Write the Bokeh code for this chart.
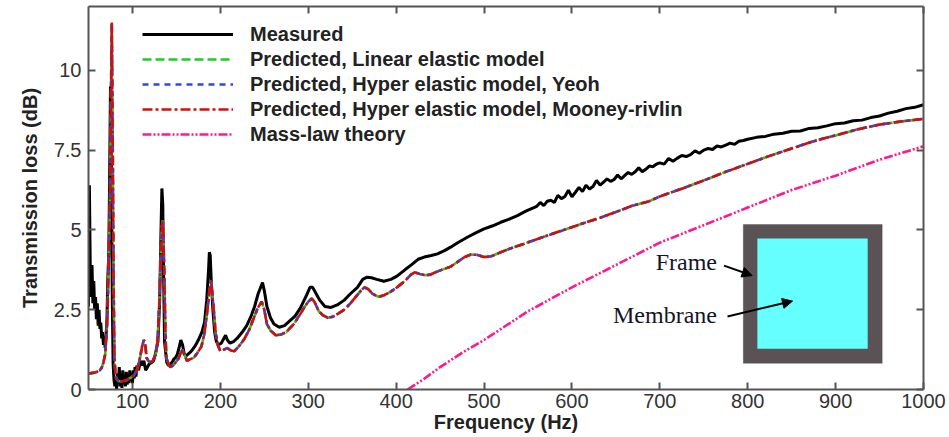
from bokeh.plotting import figure
from bokeh.models import (Range1d, FixedTicker, LinearAxis, Legend, LegendItem,
                          BoxAnnotation, Label, Arrow, NormalHead, CustomJSTickFormatter)
from bokeh.embed import file_html
from bokeh.resources import INLINE

# ---------------- data ----------------
meas_f = [
    50, 51, 52, 53, 54, 55, 56, 57, 58, 59,
    60, 61, 62, 63, 64, 65, 66, 67, 68, 69,
    70, 71, 72, 73, 74, 75, 76, 77, 78, 79,
    80, 81, 82, 83, 84, 85, 86, 87, 88, 89,
    90, 91, 92, 93, 94, 95, 96, 97, 98, 99,
    100, 101, 102, 103, 104, 105, 107, 109, 111, 113,
    115, 117, 119, 122, 124, 126, 129, 131, 132.5, 133.5,
    134.5, 135.5, 136.5, 139, 141, 143, 145, 147, 149, 151,
    153, 155, 157, 159, 161, 163, 165, 167, 171, 175,
    179, 182, 184.5, 186.5, 187.5, 188.5, 189.5, 191.5, 193.5, 195.5,
    198, 201, 204, 206, 208, 211, 215, 219, 225, 230,
    235, 239, 243, 248, 250, 253, 257, 261, 267, 273,
    279, 285, 291, 298, 302, 305, 309, 313, 319, 326,
    333, 341, 348, 356, 362, 367, 372, 378, 386, 394,
    401, 410, 418, 425, 432, 440, 447, 455, 462, 470,
    481, 490, 500, 510, 519, 528, 538, 547, 556, 560,
    564, 568, 572, 576, 580, 584, 588, 592, 596, 600,
    604, 608, 612, 616, 620, 624, 628, 632, 636, 640,
    644, 648, 652, 656, 660, 664, 668, 672, 676, 680,
    684, 688, 692, 696, 700, 705, 710, 715, 720, 725,
    730, 735, 740, 745, 750, 755, 760, 765, 770, 775,
    780, 785, 790, 795, 800, 810, 820, 830, 840, 850,
    860, 870, 880, 890, 900, 910, 920, 930, 940, 950,
    960, 970, 980, 990, 1000]
meas_tl = [
    2.6, 6.4, 3.8, 2.9, 3.9, 2.7, 3.4, 2.5, 2.9, 2.2,
    2.7, 2.0, 2.5, 1.9, 2.1, 1.6, 1.8, 1.4, 1.6, 1.3,
    1.7, 2.2, 3.5, 4.2, 6.5, 9.5, 7.0, 3.0, 0.8, 0.3,
    0.1, 0.4, 0.0, 0.5, 0.2, 0.7, 0.1, 0.5, 0.05, 0.6,
    0.2, 0.4, 0.1, 0.55, 0.15, 0.45, 0.2, 0.6, 0.3, 0.5,
    0.2, 0.6, 0.35, 0.7, 0.4, 0.75, 0.6, 0.9, 0.75, 0.9,
    0.6, 0.7, 0.8, 0.85, 0.9, 1.1, 1.5, 2.8, 5.0, 6.3,
    5.8, 3.5, 1.5, 0.85, 0.75, 0.8, 0.85, 0.95, 1.0, 1.1,
    1.3, 1.55, 1.4, 1.1, 1.05, 1.1, 1.15, 1.2, 1.35, 1.55,
    1.8, 2.1, 2.8, 3.7, 4.3, 4.2, 3.5, 2.5, 1.8, 1.5,
    1.4, 1.45, 1.6, 1.7, 1.55, 1.45, 1.5, 1.6, 1.8, 2.0,
    2.3, 2.6, 3.0, 3.35, 3.1, 2.6, 2.25, 2.05, 1.95, 2.0,
    2.15, 2.3, 2.55, 2.95, 3.2, 3.2, 3.0, 2.8, 2.6, 2.57,
    2.65, 2.8, 3.0, 3.2, 3.45, 3.52, 3.5, 3.45, 3.39, 3.45,
    3.55, 3.75, 3.92, 4.08, 4.15, 4.2, 4.25, 4.35, 4.46, 4.6,
    4.77, 4.9, 5.03, 5.13, 5.24, 5.33, 5.45, 5.58, 5.69, 5.74,
    5.86, 5.76, 5.9, 5.93, 5.86, 6.08, 5.98, 6.05, 6.24, 6.04,
    6.18, 6.33, 6.2, 6.4, 6.28, 6.36, 6.55, 6.4, 6.5, 6.6,
    6.52, 6.58, 6.72, 6.6, 6.7, 6.8, 6.74, 6.82, 6.95, 6.82,
    6.9, 7.0, 6.98, 7.06, 7.1, 7.06, 7.24, 7.15, 7.25, 7.33,
    7.3, 7.36, 7.48, 7.4, 7.5, 7.55, 7.52, 7.63, 7.6, 7.66,
    7.72, 7.68, 7.78, 7.8, 7.84, 7.9, 7.93, 8.0, 8.03, 8.09,
    8.1, 8.18, 8.2, 8.26, 8.33, 8.35, 8.42, 8.44, 8.52, 8.57,
    8.66, 8.72, 8.8, 8.84, 8.92]

pred_f = [
    50, 55, 60, 63, 65, 67, 69, 71, 72, 73,
    74.5, 75.5, 76.5, 77.5, 78.5, 79.5, 80.5, 81.5, 83.5, 86.5,
    91, 94, 98, 102, 105, 107, 109, 111, 113, 114.5,
    116, 118, 120, 123, 126.5, 128.5, 130.5, 132.5, 133.5, 134.5,
    135.5, 136.5, 137.5, 138.5, 141, 143, 146, 149, 152, 155,
    157, 159, 162, 166, 170, 174, 178.5, 181.5, 184.5, 186.5,
    188.5, 189.5, 190.5, 192.5, 194.5, 197, 200, 204, 208, 212,
    216, 221, 226.5, 232.5, 237.5, 242.5, 247, 250, 253, 257,
    263, 269, 275, 283.5, 289.5, 295, 300, 304, 307, 312,
    317, 322, 328, 334, 341, 348, 354, 360, 364, 368,
    373, 380, 386, 393, 401, 410, 417, 421, 427, 433,
    439, 447, 455, 462, 470, 478, 485, 492, 500, 508,
    519, 530, 545, 556, 575, 594, 612, 632, 650, 669,
    688, 700, 726, 750, 775, 800, 825, 850, 875, 900,
    925, 950, 975, 1000]
pred_linear_tl = [
    0.5, 0.52, 0.56, 0.6, 0.68, 0.85, 1.1, 2.0, 2.8, 4.0,
    6.0, 9.0, 11.5, 8.0, 3.5, 1.0, 0.55, 0.35, 0.27, 0.25,
    0.27, 0.3, 0.37, 0.45, 0.6, 0.8, 1.05, 1.35, 1.55, 1.45,
    1.0, 0.9, 0.85, 0.9, 1.1, 1.5, 2.6, 4.45, 5.1, 5.3,
    4.5, 3.3, 1.8, 1.0, 0.8, 0.7, 0.75, 0.85, 0.95, 1.15,
    1.25, 1.1, 0.9, 0.95, 1.0, 1.15, 1.35, 1.7, 2.3, 2.8,
    3.35, 3.4, 3.1, 2.5, 1.8, 1.4, 1.2, 1.25, 1.3, 1.22,
    1.2, 1.35, 1.55, 1.85, 2.2, 2.55, 2.75, 2.5, 2.05, 1.85,
    1.7, 1.72, 1.8, 2.05, 2.3, 2.55, 2.75, 2.85, 2.75, 2.45,
    2.32, 2.25, 2.28, 2.38, 2.5, 2.7, 2.9, 3.1, 3.2, 3.15,
    3.0, 2.9, 2.95, 3.05, 3.2, 3.4, 3.6, 3.67, 3.62, 3.58,
    3.6, 3.7, 3.78, 3.85, 4.0, 4.15, 4.23, 4.22, 4.15, 4.17,
    4.3, 4.42, 4.56, 4.67, 4.85, 5.03, 5.2, 5.38, 5.56, 5.76,
    5.9, 6.05, 6.3, 6.55, 6.82, 7.07, 7.32, 7.55, 7.78, 7.96,
    8.15, 8.3, 8.4, 8.48]
# the two hyper-elastic predictions coincide with the linear one in the picture
pred_yeoh_tl = list(pred_linear_tl)
pred_mooney_tl = list(pred_linear_tl)

mass_f = [413, 430, 450, 475, 500, 550, 600, 650, 700, 750, 800, 850, 900, 950, 1000]
mass_tl = [0.0, 0.3, 0.7, 1.15, 1.55, 2.45, 3.2, 3.9, 4.6, 5.15, 5.7, 6.25, 6.7, 7.2, 7.62]

x_ticks = [100, 200, 300, 400, 500, 600, 700, 800, 900, 1000]
y_ticks = [0, 2.5, 5, 7.5, 10]

series_labels = ["Measured",
                 "Predicted, Linear elastic model",
                 "Predicted, Hyper elastic model, Yeoh",
                 "Predicted, Hyper elastic model, Mooney-rivlin",
                 "Mass-law theory"]

# ---------------- figure ----------------
AX = "#555555"
FONT = "Liberation Sans"

p = figure(width=949, height=437, output_backend="svg", toolbar_location=None,
           x_range=Range1d(50, 1000), y_range=Range1d(0, 12),
           min_border_left=88, min_border_right=26, min_border_top=6, min_border_bottom=48,
           background_fill_color="white", border_fill_color="white")
p.grid.visible = False
p.outline_line_color = None

fmt = CustomJSTickFormatter(code="return String(tick);")
for ax, ticks in ((p.xaxis[0], x_ticks), (p.yaxis[0], y_ticks)):
    ax.ticker = FixedTicker(ticks=ticks)
    ax.formatter = fmt
    ax.axis_line_color = AX
    ax.axis_line_width = 2
    ax.major_tick_line_color = AX
    ax.major_tick_line_width = 2
    ax.major_tick_in = 7
    ax.major_tick_out = 0
    ax.minor_tick_line_color = None
    ax.major_label_text_font = FONT
    ax.major_label_text_font_size = "20px"
    ax.major_label_text_color = "#333333"
    ax.axis_label_text_font = FONT
    ax.axis_label_text_font_size = "20px"
    ax.axis_label_text_font_style = "bold"
    ax.axis_label_text_color = "#222222"

p.xaxis.axis_label = "Frequency (Hz)"
p.yaxis.axis_label = "Transmission loss (dB)"
p.xaxis.major_label_standoff = 4
p.xaxis.axis_label_standoff = 0
p.yaxis.major_label_standoff = 7
p.yaxis.axis_label_standoff = 10

empty = CustomJSTickFormatter(code="return '';")
for loc, ticks in (("right", y_ticks), ("above", x_ticks)):
    a = LinearAxis(ticker=FixedTicker(ticks=ticks), formatter=empty,
                   axis_line_color=AX, axis_line_width=2,
                   major_tick_line_color=AX, major_tick_line_width=2,
                   major_tick_in=7, major_tick_out=0, minor_tick_line_color=None,
                   major_label_text_font_size="0px", major_label_standoff=0)
    p.add_layout(a, loc)

# ---------------- curves ----------------
r_meas = p.line(meas_f, meas_tl, line_color="black", line_width=3)
r_lin = p.line(pred_f, pred_linear_tl, line_color="#1fcc1f", line_width=2.6, line_dash="9 4")
r_yeoh = p.line(pred_f, pred_yeoh_tl, line_color="#3344ee", line_width=2.6, line_dash="6 5")
r_moon = p.line(pred_f, pred_mooney_tl, line_color="#d01010", line_width=2.6, line_dash="10 3 3 3")
r_mass = p.line(mass_f, mass_tl, line_color="#ff1a8c", line_width=2.6, line_dash="9 2 2 2 2 2")

legend = Legend(items=[LegendItem(label=lab, renderers=[r]) for lab, r in
                       zip(series_labels, [r_meas, r_lin, r_yeoh, r_moon, r_mass])],
                location=(54, 243), orientation="vertical",
                glyph_width=91, glyph_height=24, label_height=24, label_standoff=17,
                spacing=1, padding=0, margin=0,
                border_line_color=None, background_fill_alpha=0,
                label_text_font=FONT, label_text_font_size="20px",
                label_text_font_style="bold", label_text_color="#222222")
p.add_layout(legend)

# ---------------- inset sketch (frame + membrane) ----------------
frame_box = dict(left=795, right=953, bottom=0.82, top=5.17)
membrane_box = dict(left=811, right=936.5, bottom=1.28, top=4.73)
p.add_layout(BoxAnnotation(**frame_box, fill_color="#5a5254", fill_alpha=1,
                           line_color="#3e3839", line_width=1))
p.add_layout(BoxAnnotation(**membrane_box, fill_color="#66ffff", fill_alpha=1,
                           line_color=None))

SERIF = "Liberation Serif"
p.add_layout(Label(x=765, y=4.01, text="Frame", text_align="right", text_baseline="middle",
                   text_font=SERIF, text_font_size="24px", text_color="#141428"))
p.add_layout(Label(x=765, y=2.32, text="Membrane", text_align="right", text_baseline="middle",
                   text_font=SERIF, text_font_size="24px", text_color="#141428"))
p.add_layout(Arrow(x_start=773, y_start=3.88, x_end=805, y_end=3.57, line_width=2,
                   line_color="black",
                   end=NormalHead(size=10, fill_color="black", line_color="black")))
p.add_layout(Arrow(x_start=777, y_start=2.29, x_end=851, y_end=2.77, line_width=2,
                   line_color="black",
                   end=NormalHead(size=10, fill_color="black", line_color="black")))

open("out.html", "w").write(file_html(p, INLINE))
